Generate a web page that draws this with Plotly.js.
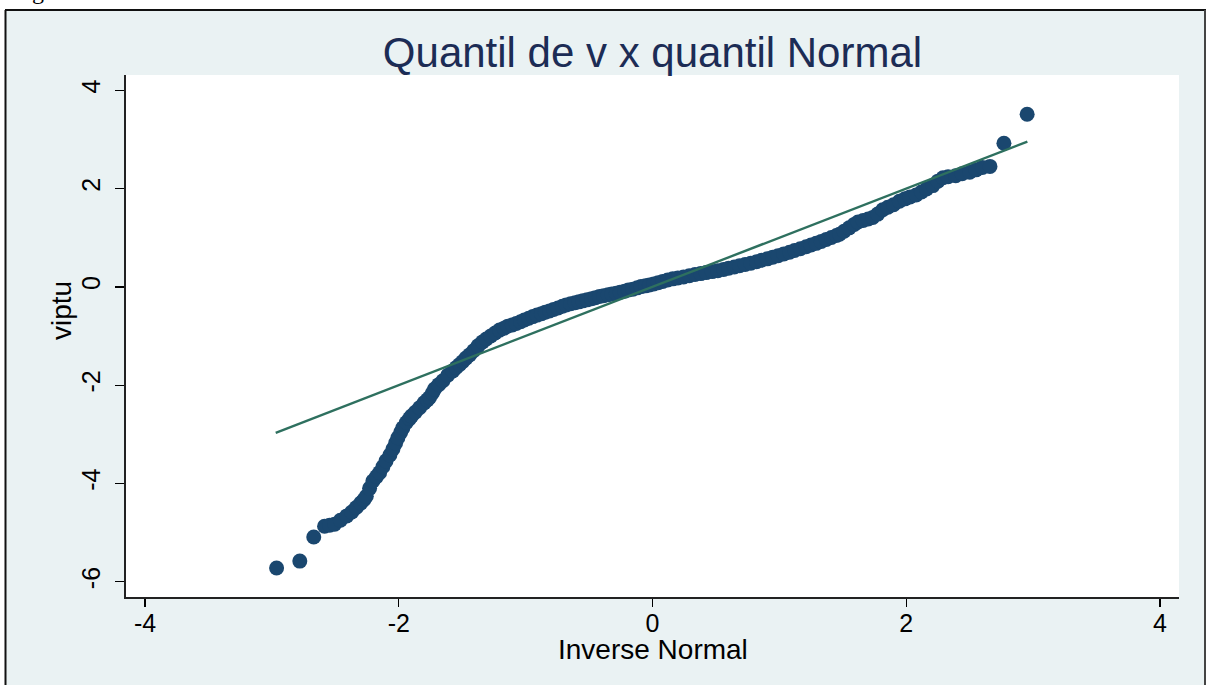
<!DOCTYPE html>
<html>
<head>
<meta charset="utf-8">
<script src="https://cdn.plot.ly/plotly-3.0.1.min.js"></script>
<style>
  html, body { margin: 0; padding: 0; background: #ffffff; }
  #chart { width: 1210px; height: 685px; }
</style>
</head>
<body>
<div id="chart"></div>
<script>
// Normal quantiles (x) and ordered values of viptu (y)
const normalQuantile = [
  -2.963, -2.78, -2.67, -2.585, -2.545, -2.506, -2.46, -2.41, -2.37, -2.335,
  -2.30, -2.275, -2.256, -2.23, -2.204, -2.175, -2.151, -2.125, -2.10, -2.07,
  -2.046, -2.025, -2.007, -1.985, -1.968, -1.94, -1.915, -1.90, -1.87, -1.836,
  -1.80, -1.775, -1.757, -1.735, -1.718, -1.685, -1.652, -1.614, -1.574, -1.547,
  -1.52, -1.495, -1.47, -1.442, -1.41, -1.375, -1.34, -1.31, -1.275, -1.24,
  -1.206, -1.17, -1.14, -1.105, -1.074, -1.04, -1.01, -0.975, -0.943, -0.91,
  -0.875, -0.845, -0.812, -0.78, -0.745, -0.71, -0.68, -0.645, -0.61, -0.58,
  -0.549, -0.515, -0.48, -0.45, -0.418, -0.385, -0.35, -0.32, -0.286, -0.255,
  -0.22, -0.19, -0.155, -0.12, -0.09, -0.055, -0.024, 0.01, 0.045, 0.08,
  0.12, 0.16, 0.20, 0.245, 0.29, 0.335, 0.38, 0.423, 0.47, 0.515,
  0.56, 0.60, 0.645, 0.686, 0.73, 0.775, 0.82, 0.86, 0.905, 0.948,
  0.99, 1.035, 1.08, 1.12, 1.165, 1.211, 1.25, 1.29, 1.33, 1.37,
  1.41, 1.45, 1.474, 1.51, 1.55, 1.59, 1.62, 1.66, 1.70, 1.736,
  1.775, 1.815, 1.855, 1.90, 1.946, 1.99, 2.03, 2.078, 2.12, 2.16,
  2.21, 2.25, 2.29, 2.33, 2.39, 2.44, 2.50, 2.55, 2.60, 2.66,
  2.77, 2.953
];
const viptu = [
  -5.72, -5.58, -5.09, -4.87, -4.85, -4.83, -4.75, -4.66, -4.58, -4.49,
  -4.40, -4.33, -4.26, -4.10, -3.95, -3.86, -3.78, -3.66, -3.54, -3.42,
  -3.30, -3.18, -3.07, -2.96, -2.87, -2.76, -2.68, -2.63, -2.55, -2.46,
  -2.36, -2.30, -2.25, -2.16, -2.08, -1.99, -1.91, -1.80, -1.71, -1.64,
  -1.58, -1.52, -1.45, -1.385, -1.30, -1.20, -1.12, -1.06, -1.00, -0.94,
  -0.88, -0.84, -0.80, -0.775, -0.745, -0.71, -0.675, -0.64, -0.605, -0.575,
  -0.545, -0.515, -0.49, -0.46, -0.43, -0.395, -0.367, -0.345, -0.325, -0.305,
  -0.285, -0.265, -0.24, -0.22, -0.197, -0.18, -0.16, -0.145, -0.129, -0.11,
  -0.09, -0.065, -0.047, -0.02, 0.005, 0.02, 0.04, 0.06, 0.085, 0.11,
  0.14, 0.163, 0.18, 0.20, 0.225, 0.25, 0.27, 0.29, 0.31, 0.33,
  0.355, 0.38, 0.405, 0.428, 0.455, 0.48, 0.51, 0.54, 0.57, 0.604,
  0.635, 0.67, 0.705, 0.74, 0.775, 0.815, 0.85, 0.885, 0.925, 0.965,
  1.005, 1.045, 1.07, 1.13, 1.20, 1.27, 1.32, 1.35, 1.38, 1.41,
  1.48, 1.57, 1.62, 1.67, 1.74, 1.79, 1.83, 1.87, 1.93, 1.99,
  2.06, 2.15, 2.22, 2.24, 2.26, 2.30, 2.33, 2.38, 2.43, 2.45,
  2.92, 3.51
];

// Reference line of the normal fit
const refLineX = [-2.97, 2.955];
const refLineY = [-2.97, 2.955];

// Axis ticks
const xTicks = [-4, -2, 0, 2, 4];
const xTickLabels = ['-4', '-2', '0', '2', '4'];
const yTicks = [-6, -4, -2, 0, 2, 4];
const yTickLabels = ['-6', '-4', '-2', '0', '2', '4'];

// Text
const chartTitle = 'Quantil de v x quantil Normal';
const xTitle = 'Inverse Normal';
const yTitle = 'viptu';
const captionFragment = 'g';

// Page geometry (pixels) and helpers converting it to paper coordinates
const W = 1210, H = 685;
const M = { l: 126, r: 31, t: 75, b: 88 };
const PW = W - M.l - M.r, PH = H - M.t - M.b;
const pxX = v => (v - M.l) / PW;
const pxY = v => (H - M.b - v) / PH;

const FONT = 'Liberation Sans, Arial, Helvetica, sans-serif';
const NAVY = '#1a476f';
const GREEN = '#2e705f';
const BG = '#eaf2f3';

const traces = [
  {
    type: 'scatter',
    mode: 'markers',
    x: normalQuantile,
    y: viptu,
    marker: { color: NAVY, size: 15, line: { width: 0 } },
    hoverinfo: 'x+y',
    showlegend: false
  },
  {
    type: 'scatter',
    mode: 'lines',
    x: refLineX,
    y: refLineY,
    line: { color: GREEN, width: 2.4 },
    hoverinfo: 'skip',
    showlegend: false
  }
];

const whiteRect = (x0, x1, y0, y1) => ({
  type: 'rect', xref: 'paper', yref: 'paper', layer: 'above',
  x0: pxX(x0), x1: pxX(x1), y0: pxY(y1), y1: pxY(y0),
  fillcolor: '#ffffff', line: { width: 0 }
});
const frameLine = (x0, y0, x1, y1, color) => ({
  type: 'line', xref: 'paper', yref: 'paper', layer: 'above',
  x0: pxX(x0), x1: pxX(x1), y0: pxY(y0), y1: pxY(y1),
  line: { color: color, width: 2 }
});

const layout = {
  width: W,
  height: H,
  margin: M,
  paper_bgcolor: BG,
  plot_bgcolor: '#ffffff',
  font: { family: FONT, color: '#000000' },
  title: {
    text: chartTitle,
    font: { family: FONT, size: 42, color: '#1c2c55' },
    x: 0.5, xref: 'paper', xanchor: 'center',
    y: 1 - 52 / H, yref: 'container', yanchor: 'middle'
  },
  xaxis: {
    range: [-4.15, 4.15],
    tickmode: 'array', tickvals: xTicks, ticktext: xTickLabels,
    ticks: 'outside', ticklen: 8, tickwidth: 1.3, tickcolor: '#000000',
    tickfont: { family: FONT, size: 25, color: '#000000' },
    ticklabelstandoff: -5,
    showline: true, linecolor: '#222222', linewidth: 1.6, mirror: false,
    showgrid: false, zeroline: false
  },
  yaxis: {
    range: [-6.31, 4.31],
    tickmode: 'array', tickvals: yTicks, ticktext: yTickLabels,
    ticks: 'outside', ticklen: 9, tickwidth: 1.3, tickcolor: '#000000',
    tickangle: -90,
    tickfont: { family: FONT, size: 25, color: '#000000' },
    ticklabelstandoff: 5,
    showline: true, linecolor: '#222222', linewidth: 1.6, mirror: false,
    showgrid: false, zeroline: false
  },
  annotations: [
    {
      text: xTitle, showarrow: false,
      xref: 'paper', yref: 'paper',
      x: 0.5, y: pxY(649), xanchor: 'center', yanchor: 'middle',
      font: { family: FONT, size: 28, color: '#000000' }
    },
    {
      text: yTitle, textangle: -90, showarrow: false,
      xref: 'paper', yref: 'paper',
      x: pxX(61), y: pxY(311), xanchor: 'center', yanchor: 'middle',
      font: { family: FONT, size: 28, color: '#000000' }
    },
    {
      text: captionFragment, showarrow: false,
      xref: 'paper', yref: 'paper',
      x: pxX(30), y: pxY(6), xanchor: 'left', yanchor: 'bottom',
      font: { family: 'Liberation Serif, Times New Roman, serif', size: 24, color: '#000000' }
    }
  ],
  shapes: [
    whiteRect(0, W, 0, 9),
    whiteRect(0, 5, 0, H),
    whiteRect(1206, W, 0, H),
    frameLine(5.5, 10, 5.5, H + 2, '#111111'),
    frameLine(5, 10, 1206, 10, '#111111'),
    frameLine(1205, 10, 1205, H + 2, '#444444')
  ]
};

Plotly.newPlot('chart', traces, layout, { displayModeBar: false, staticPlot: true });
</script>
</body>
</html>
